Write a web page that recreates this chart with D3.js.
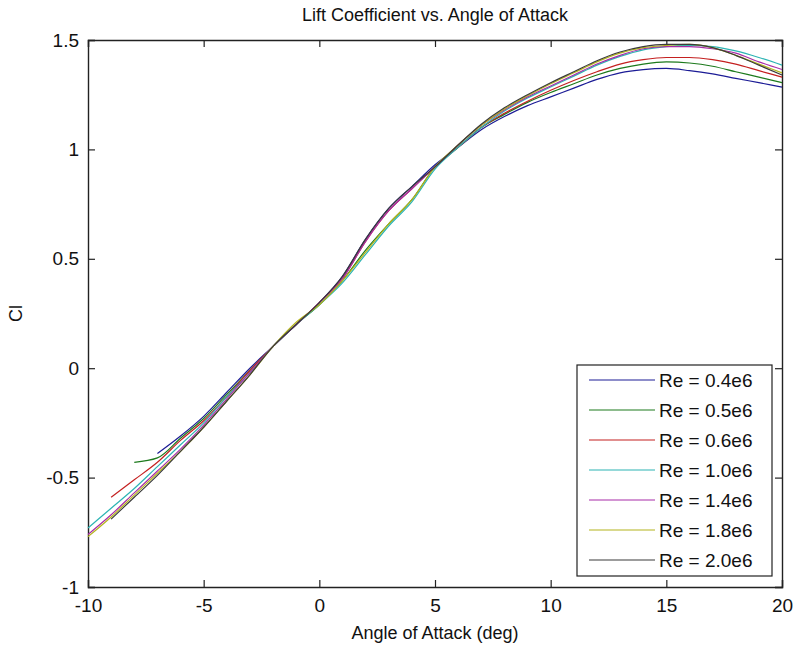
<!DOCTYPE html>
<html>
<head>
<meta charset="utf-8">
<script src="https://cdn.jsdelivr.net/npm/d3@7"></script>
<style>
  body { margin: 0; background: #fff; }
  text { font-family: "Liberation Sans", Arial, sans-serif; fill: #111; }
</style>
</head>
<body>
<div id="chart"></div>
<script>
const width = 796;
const height = 651;
const margin = { top: 40, right: 14, bottom: 64, left: 88 };

// angle of attack (deg)
const alpha = d3.range(-10, 21, 1);

const reLabels = ["Re = 0.4e6", "Re = 0.5e6", "Re = 0.6e6", "Re = 1.0e6", "Re = 1.4e6", "Re = 1.8e6", "Re = 2.0e6"];
const colors = ["#1c1c96", "#1d7a1d", "#c42020", "#2cb4b4", "#a82ca8", "#b4b41c", "#3a3a3a"];

// Cl values, one entry per alpha (null = no data)
const cl04 = [null, null, null, -0.39, -0.31, -0.22, -0.11, 0.00, 0.10, 0.20, 0.30, 0.42, 0.59, 0.73, 0.83, 0.93, 1.01, 1.09, 1.15, 1.20, 1.24, 1.28, 1.32, 1.35, 1.365, 1.37, 1.36, 1.345, 1.325, 1.305, 1.285];
const cl05 = [null, null, -0.43, -0.41, -0.32, -0.23, -0.12, -0.01, 0.10, 0.20, 0.29, 0.40, 0.54, 0.66, 0.77, 0.92, 1.01, 1.10, 1.16, 1.215, 1.26, 1.30, 1.34, 1.37, 1.39, 1.40, 1.395, 1.38, 1.355, 1.33, 1.305];
const cl06 = [null, -0.59, -0.51, -0.43, -0.33, -0.24, -0.13, -0.01, 0.10, 0.20, 0.30, 0.41, 0.58, 0.72, 0.82, 0.92, 1.01, 1.10, 1.165, 1.22, 1.27, 1.315, 1.355, 1.39, 1.41, 1.42, 1.42, 1.41, 1.39, 1.36, 1.33];
const cl10 = [-0.73, -0.64, -0.55, -0.45, -0.35, -0.25, -0.13, -0.02, 0.10, 0.20, 0.29, 0.39, 0.52, 0.65, 0.76, 0.91, 1.01, 1.10, 1.175, 1.235, 1.285, 1.335, 1.385, 1.425, 1.455, 1.47, 1.475, 1.47, 1.45, 1.42, 1.385];
const cl14 = [-0.76, -0.67, -0.57, -0.47, -0.37, -0.26, -0.14, -0.02, 0.10, 0.20, 0.30, 0.41, 0.58, 0.72, 0.82, 0.92, 1.02, 1.11, 1.18, 1.24, 1.29, 1.34, 1.39, 1.43, 1.46, 1.47, 1.47, 1.46, 1.44, 1.40, 1.365];
const cl18 = [-0.77, -0.68, -0.58, -0.48, -0.38, -0.27, -0.15, -0.03, 0.10, 0.21, 0.29, 0.40, 0.53, 0.66, 0.77, 0.92, 1.02, 1.11, 1.185, 1.245, 1.30, 1.35, 1.40, 1.44, 1.465, 1.475, 1.48, 1.465, 1.43, 1.39, 1.35];
const cl20 = [null, -0.69, -0.59, -0.49, -0.38, -0.27, -0.15, -0.03, 0.10, 0.20, 0.30, 0.42, 0.59, 0.73, 0.83, 0.92, 1.02, 1.115, 1.19, 1.25, 1.305, 1.355, 1.405, 1.445, 1.47, 1.48, 1.48, 1.465, 1.43, 1.385, 1.34];

const series = [cl04, cl05, cl06, cl10, cl14, cl18, cl20];

const xTicks = [-10, -5, 0, 5, 10, 15, 20];
const yTicks = [-1, -0.5, 0, 0.5, 1, 1.5];

const svg = d3.select("#chart")
  .append("svg")
  .attr("width", width)
  .attr("height", height);

const x = d3.scaleLinear().domain([-10, 20]).range([margin.left, width - margin.right]);
const y = d3.scaleLinear().domain([-1, 1.5]).range([height - margin.bottom, margin.top]);

// plain hyphen for negatives, like the original
const fmt = d => String(d);

// axes with inward ticks on all four sides
svg.append("g")
  .attr("class", "axis")
  .attr("transform", `translate(0,${y(-1)})`)
  .call(d3.axisBottom(x).tickValues(xTicks).tickSize(-7).tickPadding(12).tickFormat(fmt));
svg.append("g")
  .attr("class", "axis")
  .attr("transform", `translate(0,${y(1.5)})`)
  .call(d3.axisTop(x).tickValues(xTicks).tickSize(-7).tickFormat(""));
svg.append("g")
  .attr("class", "axis")
  .attr("transform", `translate(${x(-10)},0)`)
  .call(d3.axisLeft(y).tickValues(yTicks).tickSize(-7).tickPadding(9).tickFormat(fmt));
svg.append("g")
  .attr("class", "axis")
  .attr("transform", `translate(${x(20)},0)`)
  .call(d3.axisRight(y).tickValues(yTicks).tickSize(-7).tickFormat(""));

svg.selectAll(".axis .domain").attr("stroke", "#222").attr("stroke-width", 1.4);
svg.selectAll(".axis line").attr("stroke", "#222").attr("stroke-width", 1.2);
svg.selectAll(".axis text")
  .style("font-family", "'Liberation Sans', Arial, sans-serif")
  .style("font-size", "19px")
  .attr("fill", "#111");

// curves
const line = d3.line()
  .defined(d => d[1] !== null)
  .x(d => x(d[0]))
  .y(d => y(d[1]))
  .curve(d3.curveMonotoneX);

svg.append("g")
  .selectAll("path")
  .data(series)
  .enter()
  .append("path")
  .attr("fill", "none")
  .attr("stroke", (d, i) => colors[i])
  .attr("stroke-width", 1.2)
  .attr("d", d => line(alpha.map((a, j) => [a, d[j]])));

// title and labels
svg.append("text")
  .attr("x", (x(-10) + x(20)) / 2)
  .attr("y", 21)
  .attr("text-anchor", "middle")
  .style("font-size", "18px")
  .text("Lift Coefficient vs. Angle of Attack");

svg.append("text")
  .attr("x", (x(-10) + x(20)) / 2)
  .attr("y", 639)
  .attr("text-anchor", "middle")
  .style("font-size", "18px")
  .text("Angle of Attack (deg)");

svg.append("text")
  .attr("transform", `translate(22,${(y(-1) + y(1.5)) / 2}) rotate(-90)`)
  .attr("text-anchor", "middle")
  .style("font-size", "18px")
  .text("Cl");

// legend
const legend = svg.append("g");
legend.append("rect")
  .attr("x", 577)
  .attr("y", 365)
  .attr("width", 195)
  .attr("height", 211)
  .attr("fill", "#fff")
  .attr("stroke", "#222")
  .attr("stroke-width", 1.2);

const rows = legend.selectAll(".row")
  .data(reLabels)
  .enter()
  .append("g")
  .attr("class", "row")
  .attr("transform", (d, i) => `translate(0,${380 + i * 30})`);

rows.append("line")
  .attr("x1", 589)
  .attr("x2", 655)
  .attr("stroke", (d, i) => colors[i])
  .attr("stroke-width", 1.2);

rows.append("text")
  .attr("x", 659)
  .attr("dy", "0.36em")
  .style("font-size", "19px")
  .text(d => d);
</script>
</body>
</html>
